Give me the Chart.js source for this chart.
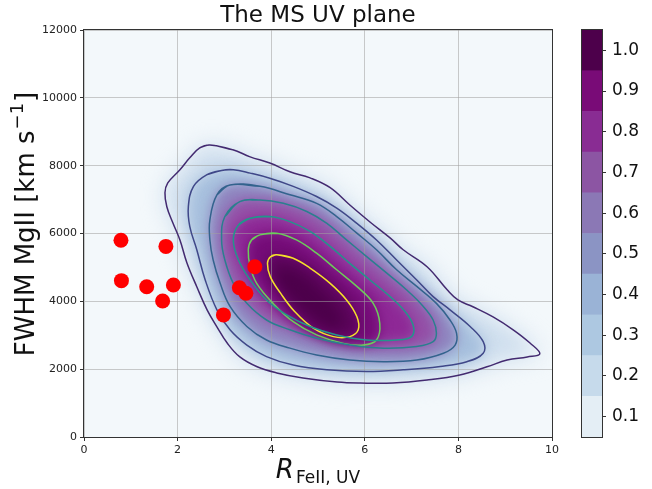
<!DOCTYPE html>
<html>
<head>
<meta charset="utf-8">
<script src="https://cdn.jsdelivr.net/npm/chart.js@4.4.0/dist/chart.umd.min.js"></script>
<style>
  html, body { margin: 0; padding: 0; background: #fff; }
  #wrap { position: relative; width: 652px; height: 489px; }
  #main { position: absolute; left: 0; top: 0; }
  #cbar { position: absolute; left: 560px; top: 0; }
</style>
</head>
<body>
<div id="wrap">
  <canvas id="main" width="652" height="489"></canvas>
  <canvas id="cbar" width="92" height="489"></canvas>
</div>
<script>
// red sources: R_FeII,UV and FWHM MgII
const srcR    = [0.79, 1.75, 0.80, 1.34, 1.91, 1.68, 2.98, 3.32, 3.46, 3.65];
const srcFWHM = [5800, 5620, 4610, 4430, 4480, 4010, 3600, 4400, 4240, 5020];

// density contours, outermost first, [R, FWHM]
const contour1 = [[2.69,8610],[3.18,8470],[3.55,8260],[3.97,8080],[4.40,7820],[4.83,7640],[5.26,7350],[5.68,6840],[6.11,6340],[6.54,5870],[6.82,5520],[7.33,5020],[7.76,4340],[7.99,4040],[8.31,3840],[8.74,3540],[9.17,3160],[9.53,2770],[9.74,2450],[9.47,2360],[9.04,2270],[8.61,2070],[8.03,1830],[7.33,1680],[6.60,1590],[5.90,1590],[5.41,1620],[4.68,1740],[4.12,1890],[3.70,2070],[3.33,2360],[3.06,2770],[2.84,3250],[2.63,3750],[2.41,4430],[2.20,5130],[2.05,5810],[1.90,6310],[1.77,6790],[1.73,7200],[1.79,7490],[2.05,7880],[2.26,8230],[2.48,8530]];
const contour2 = [[2.94,7860],[3.19,7880],[3.55,7780],[3.97,7630],[4.47,7390],[4.97,7090],[5.40,6750],[5.83,6300],[6.25,5810],[6.68,5220],[7.11,4630],[7.46,4140],[7.82,3750],[8.25,3260],[8.53,2810],[8.53,2470],[8.18,2220],[7.61,2080],[6.82,1980],[6.04,1930],[5.19,1980],[4.47,2120],[3.90,2370],[3.48,2710],[3.12,3160],[2.84,3750],[2.59,4630],[2.41,5520],[2.26,6210],[2.23,6800],[2.34,7390],[2.62,7730]];
const contour3 = [[3.12,7430],[3.76,7390],[4.40,7140],[4.97,6890],[5.40,6500],[5.83,6010],[6.25,5520],[6.68,4930],[7.11,4440],[7.53,3940],[7.82,3450],[7.96,3060],[7.93,2710],[7.68,2470],[7.11,2270],[6.40,2220],[5.68,2270],[4.97,2420],[4.40,2620],[3.90,2860],[3.48,3260],[3.12,3850],[2.91,4530],[2.76,5220],[2.69,5810],[2.69,6400],[2.84,7140]];
const contour4 = [[3.33,6940],[3.76,6990],[4.26,6890],[4.76,6650],[5.19,6300],[5.61,5810],[6.04,5320],[6.47,4830],[6.89,4340],[7.25,3850],[7.46,3450],[7.53,3060],[7.46,2810],[7.11,2670],[6.40,2620],[5.68,2710],[4.97,2910],[4.40,3160],[3.90,3450],[3.48,3940],[3.19,4530],[3.01,5220],[2.94,5810],[3.01,6500]];
const contour5 = [[3.55,6450],[3.97,6500],[4.40,6350],[4.83,6060],[5.26,5620],[5.68,5120],[6.11,4630],[6.54,4140],[6.89,3650],[7.04,3260],[7.00,2960],[6.68,2860],[6.04,2860],[5.40,3010],[4.83,3260],[4.33,3600],[3.90,4040],[3.55,4630],[3.30,5220],[3.19,5810],[3.30,6250]];
const contour6 = [[3.76,5960],[4.12,6010],[4.54,5810],[4.97,5420],[5.40,4930],[5.83,4440],[6.18,3940],[6.32,3350],[6.25,2860],[5.97,2710],[5.54,2760],[4.97,3010],[4.47,3400],[4.04,3940],[3.69,4530],[3.55,5030],[3.51,5520],[3.58,5810]];
const contour7 = [[4.12,5370],[4.47,5270],[4.83,4980],[5.26,4530],[5.61,4040],[5.83,3550],[5.86,3160],[5.68,2960],[5.33,2960],[4.90,3210],[4.50,3700],[4.20,4240],[3.98,4730],[3.92,5120],[3.99,5320]];
// darkest core of the density map
const coreRegion = [[4.30,4950],[4.70,4700],[5.10,4200],[5.45,3650],[5.50,3300],[5.25,3250],[4.85,3600],[4.40,4150],[4.15,4600],[4.10,4850]];

// colorbar levels
const levelTicks = [0.1, 0.2, 0.3, 0.4, 0.5, 0.6, 0.7, 0.8, 0.9, 1.0];

const titleText = 'The MS UV plane';
const yLabelMain = 'FWHM MgII [km s';
const yLabelSup = '\u22121';
const yLabelEnd = ']';
const xLabelMain = 'R';
const xLabelSub = 'FeII, UV';

// styles
const cbarColors = ['#e4eef5', '#c6daeb', '#adc8e1', '#9ab3d6', '#8b94c4', '#8b78b5', '#8c55a3', '#892c93', '#790b77', '#4d004b'];
const lineColors = ['#432a70', '#3f4788', '#33638d', '#2a7f8e', '#22958b', '#6ccd5a', '#f5e12a'];
const fillColors = ['#cddded', '#a6bfdd', '#8f84bf', '#9450a7', '#8e2896', '#750c78', '#5a0459', '#4d004b'];
const fillBlur = [11, 7, 6, 6, 6, 6, 6, 6];
const FONT = '"DejaVu Sans", sans-serif';

Chart.defaults.font.family = FONT;

const contours = [contour1, contour2, contour3, contour4, contour5, contour6, contour7];
const fillPolys = [contour1, contour2, contour3, contour4, contour5, contour6, contour7, coreRegion];

// wrap one point on each side so the spline closes smoothly
function closed(pts) {
    const d = pts.map(p => ({ x: p[0], y: p[1] }));
    return [d[d.length - 1], ...d, d[0], d[1]];
}

const datasets = [];
datasets.push({
    data: srcR.map((r, i) => ({ x: r, y: srcFWHM[i] })),
    backgroundColor: '#ff0000',
    borderWidth: 0,
    pointRadius: 7.5,
    showLine: false
});
contours.forEach((c, i) => {
    datasets.push({
        data: closed(c),
        showLine: true,
        fill: false,
        borderColor: lineColors[i],
        borderWidth: 1.5,
        pointRadius: 0,
        tension: 0.4
    });
});
// fills: innermost gets the lowest index so it is painted last
const firstFill = datasets.length;
for (let i = fillPolys.length - 1; i >= 0; i--) {
    datasets.push({
        data: closed(fillPolys[i]),
        showLine: true,
        fill: 'shape',
        backgroundColor: fillColors[i],
        borderWidth: 0,
        borderColor: 'rgba(0,0,0,0)',
        pointRadius: 0,
        tension: 0.4,
        blurPx: fillBlur[i]
    });
}

function blurFor(chart, index) {
    const ds = chart.data.datasets[index];
    return ds && ds.blurPx ? 'blur(' + ds.blurPx + 'px)' : 'none';
}

// blurred fills give the smooth density look, grid goes back on top of them
const shading = {
    id: 'shading',
    beforeDatasetsDraw(chart) {
        const { ctx, chartArea: a } = chart;
        ctx.save();
        ctx.fillStyle = '#f3f8fb';
        ctx.fillRect(a.left, a.top, a.width, a.height);
        ctx.restore();
        ctx.filter = blurFor(chart, chart.data.datasets.length - 1);
    },
    afterDatasetDraw(chart, args) {
        const ctx = chart.ctx;
        ctx.filter = 'none';
        if (args.index === firstFill) {
            chart.scales.x.drawGrid(chart.chartArea);
            chart.scales.y.drawGrid(chart.chartArea);
        }
        if (args.index - 1 >= firstFill) ctx.filter = blurFor(chart, args.index - 1);
    },
    afterDatasetsDraw(chart) {
        const { ctx, chartArea: a } = chart;
        ctx.filter = 'none';
        ctx.save();
        ctx.strokeStyle = '#333';
        ctx.lineWidth = 1;
        ctx.strokeRect(Math.round(a.left) - 0.5, Math.round(a.top) - 0.5, Math.round(a.width) + 1, Math.round(a.height) + 1);
        ctx.restore();
    }
};

const labels = {
    id: 'labels',
    afterDraw(chart) {
        const { ctx, chartArea: a } = chart;
        const cx = (a.left + a.right) / 2;
        ctx.save();
        ctx.fillStyle = '#111';
        ctx.textBaseline = 'alphabetic';
        ctx.textAlign = 'center';
        ctx.font = '23px ' + FONT;
        ctx.fillText(titleText, cx, 22);

        // y label with a raised -1
        ctx.save();
        ctx.translate(34, 224);
        ctx.rotate(-Math.PI / 2);
        ctx.textAlign = 'left';
        ctx.font = '26px ' + FONT;
        const w1 = ctx.measureText(yLabelMain).width;
        const w3 = ctx.measureText(yLabelEnd).width;
        ctx.font = '18px ' + FONT;
        const w2 = ctx.measureText(yLabelSup).width;
        let x = -(w1 + w2 + w3 + 2) / 2;
        ctx.font = '26px ' + FONT;
        ctx.fillText(yLabelMain, x, 0);
        x += w1 + 1;
        ctx.font = '18px ' + FONT;
        ctx.fillText(yLabelSup, x, -11);
        x += w2 + 1;
        ctx.font = '26px ' + FONT;
        ctx.fillText(yLabelEnd, x, 0);
        ctx.restore();

        ctx.textAlign = 'left';
        ctx.font = 'italic 26px ' + FONT;
        const wR = ctx.measureText(xLabelMain).width;
        ctx.font = '17px ' + FONT;
        const wS = ctx.measureText(xLabelSub).width;
        const x0 = cx - (wR + wS + 2) / 2;
        ctx.font = 'italic 26px ' + FONT;
        ctx.fillText(xLabelMain, x0, 478);
        ctx.font = '17px ' + FONT;
        ctx.fillText(xLabelSub, x0 + wR + 2, 483);
        ctx.restore();
    }
};

const tickFont = { size: 11, family: FONT };

new Chart(document.getElementById('main'), {
    type: 'scatter',
    data: { datasets },
    options: {
        responsive: false,
        animation: false,
        devicePixelRatio: 1,
        layout: { padding: { top: 30, right: 100, left: 0, bottom: 0 } },
        plugins: { legend: { display: false }, tooltip: { enabled: false } },
        scales: {
            x: {
                type: 'linear', min: 0, max: 10,
                ticks: { stepSize: 2, font: tickFont, color: '#222', padding: 3, callback: v => String(v) },
                grid: { color: 'rgba(160,160,160,0.55)', tickLength: 4, tickColor: '#333' },
                border: { color: '#333' },
                afterFit(s) { s.height = 52; }
            },
            y: {
                type: 'linear', min: 0, max: 12000,
                ticks: { stepSize: 2000, font: tickFont, color: '#222', padding: 3, callback: v => String(v) },
                grid: { color: 'rgba(160,160,160,0.55)', tickLength: 4, tickColor: '#333' },
                border: { color: '#333' },
                afterFit(s) { s.width = 84; }
            }
        }
    },
    plugins: [shading, labels]
});

// colorbar as a stack of floating bars
const frame = {
    id: 'frame',
    afterDraw(chart) {
        const { ctx, chartArea: a } = chart;
        ctx.save();
        ctx.strokeStyle = '#333';
        ctx.lineWidth = 1;
        ctx.strokeRect(Math.round(a.left) - 0.5, Math.round(a.top) - 0.5, Math.round(a.width) + 1, Math.round(a.height) + 1);
        ctx.restore();
    }
};

new Chart(document.getElementById('cbar'), {
    type: 'bar',
    data: {
        labels: [''],
        datasets: levelTicks.map((v, i) => ({
            data: [[v - 0.05, v + 0.05]],
            backgroundColor: cbarColors[i],
            borderWidth: 0,
            grouped: false,
            barPercentage: 1,
            categoryPercentage: 1
        }))
    },
    options: {
        responsive: false,
        animation: false,
        devicePixelRatio: 1,
        layout: { padding: { top: 30, bottom: 52, left: 22, right: 0 } },
        plugins: { legend: { display: false }, tooltip: { enabled: false } },
        scales: {
            x: { display: false },
            y: {
                position: 'right', min: 0.05, max: 1.05,
                afterBuildTicks(s) { s.ticks = levelTicks.map(v => ({ value: v })); },
                afterFit(s) { s.width = 50; },
                ticks: { font: { size: 17, family: FONT }, color: '#111', padding: 6, callback: v => Number(v).toFixed(1) },
                grid: { display: true, drawOnChartArea: false, drawTicks: true, tickLength: 4, tickColor: '#333' },
                border: { display: false }
            }
        }
    },
    plugins: [frame]
});
</script>
</body>
</html>
